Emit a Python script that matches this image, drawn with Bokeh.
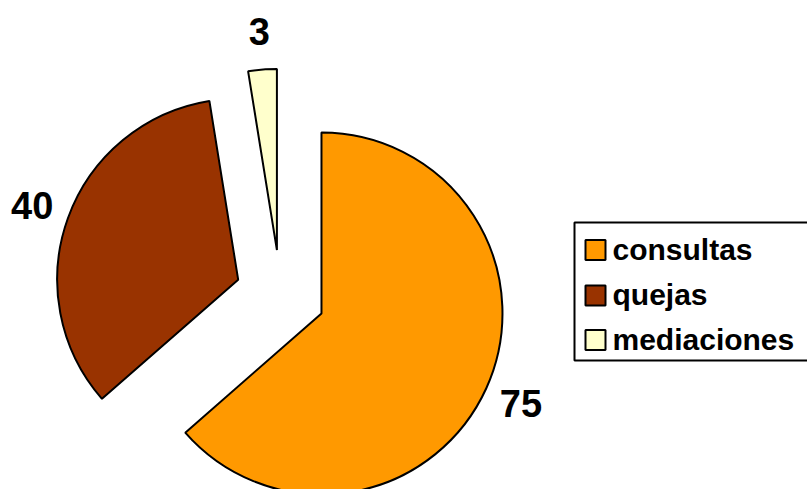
import math
from bokeh.plotting import figure
from bokeh.models import ColumnDataSource, Range1d
from bokeh.core.properties import value
from bokeh.embed import file_html
from bokeh.resources import INLINE

categories = ["consultas", "quejas", "mediaciones"]
values = [75, 40, 3]
colors = ["#FF9900", "#993300", "#FFFFCC"]

W, H = 807, 489
# layout (pixel-like data units, y up)
CX, CY = 280.0, H - 294.4
R = 181.0
EXPLODE = 45.0
LABEL_DIST = 264.0
FONT = "Liberation Sans"

total = float(sum(values))
xs, ys, starts, ends, lx, ly, labels = [], [], [], [], [], [], []
cum = 0.0
for v in values:
    a_end = math.radians(90.0 - cum / total * 360.0)
    a_start = math.radians(90.0 - (cum + v) / total * 360.0)
    mid = (a_start + a_end) / 2.0
    xs.append(CX + EXPLODE * math.cos(mid))
    ys.append(CY + EXPLODE * math.sin(mid))
    starts.append(a_start)
    ends.append(a_end)
    lx.append(CX + LABEL_DIST * math.cos(mid))
    ly.append(CY + LABEL_DIST * math.sin(mid))
    labels.append(str(v))
    cum += v

src = ColumnDataSource(dict(x=xs, y=ys, start=starts, end=ends, color=colors,
                            lx=lx, ly=ly, label=labels, cat=categories))

p = figure(width=W, height=H, output_backend="svg", toolbar_location=None,
           x_range=Range1d(0, W), y_range=Range1d(0, H), min_border=0)
p.axis.visible = False
p.grid.visible = False
p.outline_line_color = None
p.background_fill_color = "white"
p.border_fill_color = "white"

p.wedge(x="x", y="y", radius=R, start_angle="start", end_angle="end",
        fill_color="color", line_color="black", line_width=2, source=src)

p.text(x="lx", y="ly", text="label", source=src, text_font=value(FONT),
       text_font_style="bold", text_font_size="38px", text_align="center",
       text_baseline="middle", text_color="black")

# legend box
LX0, LY_TOP, LY_BOT = 574, H - 222, H - 360
p.quad(left=[LX0], right=[W + 20], top=[LY_TOP], bottom=[LY_BOT],
       fill_color="white", line_color="black", line_width=2)

row_y = [H - 249.5, H - 295, H - 339.5]
p.rect(x=[595] * 3, y=row_y, width=20, height=20, fill_color=colors,
       line_color="black", line_width=2)
p.text(x=[612] * 3, y=[yy + 1 for yy in row_y], text=categories,
       text_font=value(FONT), text_font_style="bold", text_font_size="30px",
       text_align="left", text_baseline="middle", text_color="black")

open("out.html", "w").write(file_html(p, INLINE))
